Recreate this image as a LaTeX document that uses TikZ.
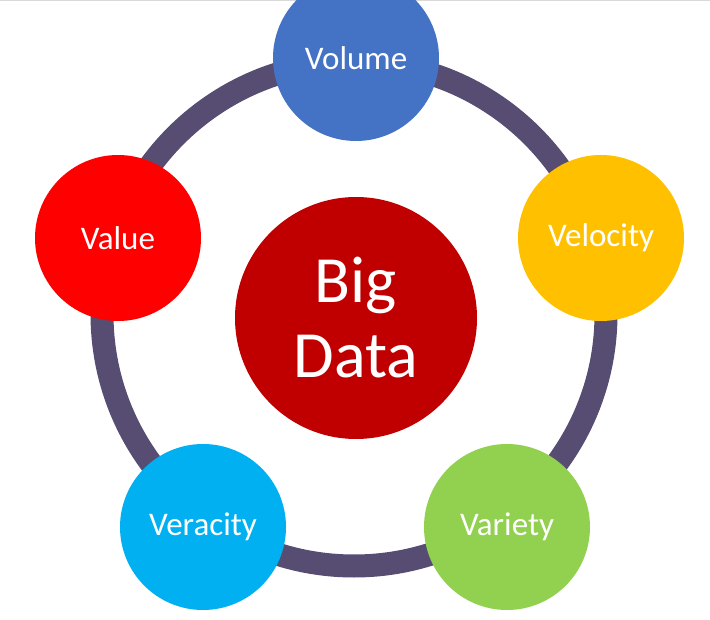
\documentclass[tikz,border=0pt]{standalone}
\usepackage{fontspec}
\setmainfont{Carlito}
\definecolor{ringc}{HTML}{574D72}
\definecolor{volc}{HTML}{4472C4}
\definecolor{velc}{HTML}{FFC000}
\definecolor{varc}{HTML}{92D050}
\definecolor{verc}{HTML}{00B0F0}
\definecolor{valc}{HTML}{FF0000}
\definecolor{bigc}{HTML}{C00000}

\begin{document}
\begin{tikzpicture}[x=1pt,y=-1pt,
 ring/.style={draw=ringc,line width=23pt},
 vee/.style={circle,inner sep=0pt,minimum size=166pt,text=white,font=\fontsize{33}{36}\selectfont},
 hub/.style={circle,inner sep=0pt,minimum size=242pt,fill=bigc,text=white,align=center,font=\fontsize{66}{75}\selectfont}]
 \useasboundingbox (0,0) rectangle (710,620);
 \draw[gray!30,line width=1.5pt] (0,0.75) -- (710,0.75);
 \coordinate (mid) at (354,314);
 \draw[ring] (mid) circle (252);
 \node[hub] (big) at (356,318) {Big\\Data};
 \node[vee,fill=volc] (volume) at (356,58) {Volume};
 \node[vee,fill=velc] (velocity) at (601,238) {Velocity};
 \node[vee,fill=varc] (variety) at (507,527) {Variety};
 \node[vee,fill=verc] (veracity) at (203,527) {Veracity};
 \node[vee,fill=valc] (value) at (118,238) {Value};
\end{tikzpicture}
\end{document}
